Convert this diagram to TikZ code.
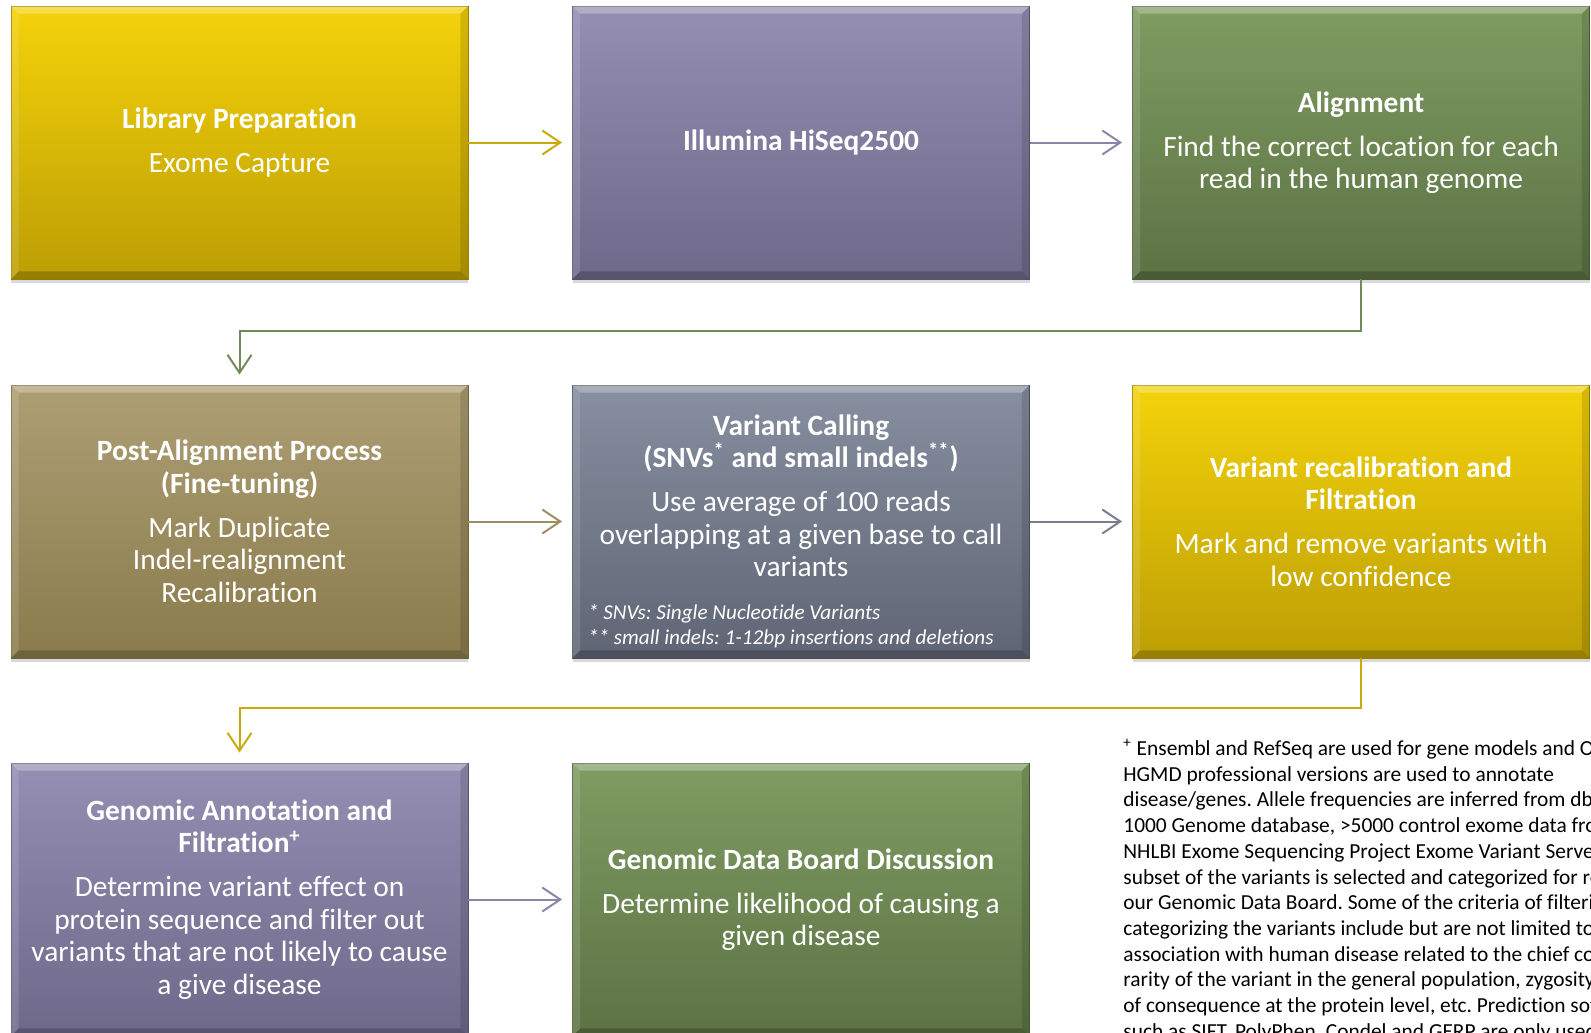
\documentclass[tikz,border=0pt]{standalone}
\usepackage{fontspec}
\setmainfont{Carlito}[Ligatures=NoCommon]
\frenchspacing
\usetikzlibrary{arrows.meta,shadows}

% box colours (top / bottom of the shading) and connector colours
\definecolor{yelTop}{HTML}{F4D20A}
\definecolor{yelBot}{HTML}{BC9E04}
\definecolor{yelArr}{HTML}{C9AA0C}
\definecolor{purTop}{HTML}{948FB3}
\definecolor{purBot}{HTML}{6E6889}
\definecolor{purArr}{HTML}{8A84A8}
\definecolor{grnTop}{HTML}{7F9C62}
\definecolor{grnBot}{HTML}{5C7244}
\definecolor{grnArr}{HTML}{6F8B57}
\definecolor{tanTop}{HTML}{AD9F74}
\definecolor{tanBot}{HTML}{8A7B4C}
\definecolor{tanArr}{HTML}{9E8D5F}
\definecolor{slaTop}{HTML}{878FA0}
\definecolor{slaBot}{HTML}{5F6574}
\definecolor{slaArr}{HTML}{767D8E}

\tikzset{
  stepbox/.style={rectangle, top color=#1Top, bottom color=#1Bot,
    draw=#1Bot!85!black, line width=0.4pt,
    minimum width=228.5pt, minimum height=136.5pt, inner sep=0pt,
    text=white, align=center, font=\fontsize{14.7}{16.25}\selectfont,
    drop shadow={shadow xshift=0pt, shadow yshift=-2pt, opacity=0.3}},
  flow/.style={draw=#1Arr, line width=1pt,
    -{Straight Barb[length=9pt,width=12pt]}, shorten >=5pt},
  notetext/.style={anchor=north west, inner sep=0pt, align=left,
    font=\fontsize{10.7}{12.85}\selectfont}
}

\begin{document}
\begin{tikzpicture}[x=0.5pt, y=-0.5pt]
    \useasboundingbox (0,0) rectangle (1591,1033);
    \clip (0,0) rectangle (1591,1033);

    % first row
    \node[stepbox=yel] (lib) at (239.5,142.5)
        {\textbf{Library Preparation}\\[5.75pt]Exome Capture};
    \node[stepbox=pur] (seq) at (801,142.5)
        {\textbf{Illumina HiSeq2500}};
    \node[stepbox=grn] (align) at (1361,142.5)
        {\textbf{Alignment}\\[5.75pt]Find the correct location for each\\read in the human genome};

    % second row
    \node[stepbox=tan] (post) at (239.5,521.5)
        {\textbf{Post-Alignment Process}\\\textbf{(Fine-tuning)}\\[5.75pt]Mark Duplicate\\Indel-realignment\\Recalibration};
    \node[stepbox=sla] (call) at (801,521.5)
        {\rule{0pt}{20pt}\textbf{Variant Calling}\\\textbf{(SNVs\textsuperscript{*} and small indels\textsuperscript{**})}\\[5.75pt]Use average of 100 reads\\overlapping at a given base to call\\variants\\[5.25pt]
        \parbox[t]{213pt}{\raggedright\fontsize{10.6}{12.5}\selectfont\itshape
        * SNVs: Single Nucleotide Variants\\{}** small indels: 1-12bp insertions and deletions}};
    \node[stepbox=yel] (recal) at (1361,521.5)
        {\textbf{Variant recalibration and}\\\textbf{Filtration}\\[5.75pt]Mark and remove variants with\\low confidence};

    % third row
    \node[stepbox=pur] (annot) at (239.5,899.5)
        {\textbf{Genomic Annotation and}\\\textbf{Filtration\textsuperscript{+}}\\[5.75pt]Determine variant effect on\\protein sequence and filter out\\variants that are not likely to cause\\a give disease};
    \node[stepbox=grn] (board) at (801,899.5)
        {\textbf{Genomic Data Board Discussion}\\[5.75pt]Determine likelihood of causing a\\given disease};

    % bevelled edges
    \foreach \b in {lib,seq,align,post,call,recal,annot,board} {
        \fill[white, opacity=0.28] (\b.north west) -- (\b.north east)
            -- ([xshift=-4pt,yshift=-4pt]\b.north east) -- ([xshift=4pt,yshift=-4pt]\b.north west) -- cycle;
        \fill[white, opacity=0.12] (\b.north west) -- ([xshift=4pt,yshift=-4pt]\b.north west)
            -- ([xshift=4pt,yshift=4pt]\b.south west) -- (\b.south west) -- cycle;
        \fill[black, opacity=0.12] (\b.north east) -- ([xshift=-4pt,yshift=-4pt]\b.north east)
            -- ([xshift=-4pt,yshift=4pt]\b.south east) -- (\b.south east) -- cycle;
        \fill[black, opacity=0.2] (\b.south west) -- ([xshift=4pt,yshift=4pt]\b.south west)
            -- ([xshift=-4pt,yshift=4pt]\b.south east) -- (\b.south east) -- cycle;
    }

    \node[notetext] (refs) at (1123,739)
        {\textsuperscript{+} Ensembl and RefSeq are used for gene models and OMIM and\\
        HGMD professional versions are used to annotate\\
        disease/genes. Allele frequencies are inferred from dbSNP,\\
        1000 Genome database, >5000 control exome data from\\
        NHLBI Exome Sequencing Project Exome Variant Server. A\\
        subset of the variants is selected and categorized for review by\\
        our Genomic Data Board. Some of the criteria of filtering and\\
        categorizing the variants include but are not limited to\\
        association with human disease related to the chief complaint,\\
        rarity of the variant in the general population, zygosity,\\
        of consequence at the protein level, etc. Prediction software\\
        such as SIFT, PolyPhen, Condel and GERP are only used};

    % connectors
    \draw[flow=yel] (lib) -- (seq);
    \draw[flow=pur] (seq) -- (align);
    \draw[flow=grn] (align.south) -- ++(0,52) -| (post.north);
    \draw[flow=tan] (post) -- (call);
    \draw[flow=sla] (call) -- (recal);
    \draw[flow=yel] (recal.south) -- ++(0,50) -| (annot.north);
    \draw[flow=pur] (annot) -- (board);
\end{tikzpicture}
\end{document}
